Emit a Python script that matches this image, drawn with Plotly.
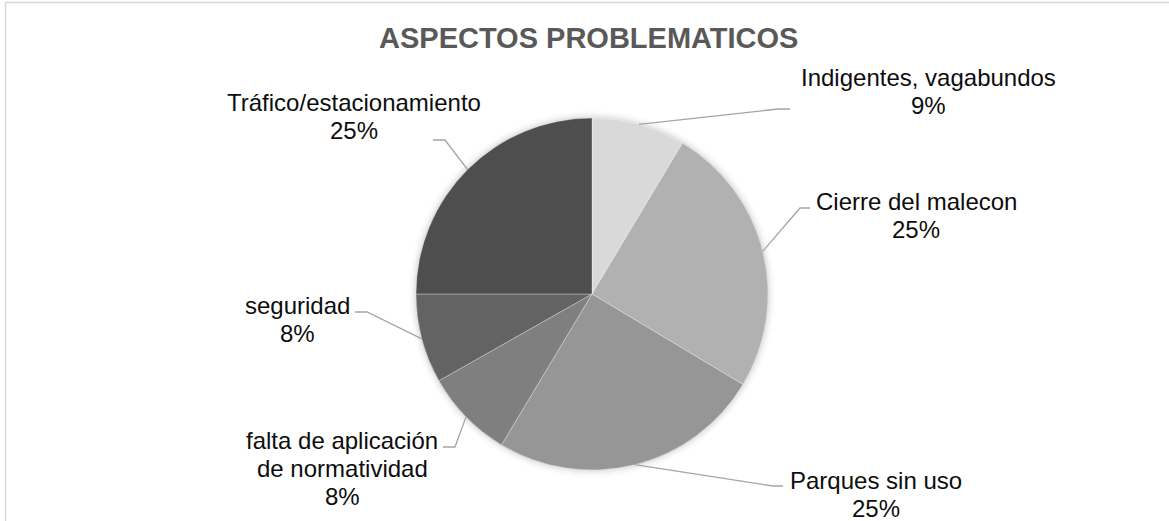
import math
import plotly.graph_objects as go

# ---- data ----
categories = ["Indigentes, vagabundos", "Cierre del malecon", "Parques sin uso",
              "falta de aplicación|de normatividad", "seguridad", "Tráfico/estacionamiento"]
values = [8.6, 25.0, 25.0, 8.2, 8.2, 25.0]
colors = ["#d9d9d9", "#b1b1b1", "#969696", "#7f7f7f", "#636363", "#4e4e4e"]
title_text = "ASPECTOS PROBLEMATICOS"

# ---- layout constants (pixels) ----
W, H = 1169, 521
CX, CY, R = 592, 294, 176
LINE_GAP = 28
# label block: (center x, first line center y)
label_pos = [(928, 77), (916, 201), (876, 480), (342, 440), (297, 305), (354, 102)]
elbows = [((778, 109), (790, 109)), ((800, 208), (810, 208)), ((773, 486), (783, 486)),
          ((455, 447), (443, 447)), ((367, 312), (355, 312)), ((445, 140), (433, 140))]
FONT = "Liberation Sans, Arial"

fig = go.Figure()
fig.add_trace(go.Pie(
    labels=[c.replace("|", " ") for c in categories], values=values, sort=False,
    direction="clockwise", rotation=0,
    marker=dict(colors=colors, line=dict(color="rgba(255,255,255,0.45)", width=0.7)),
    textinfo="none", hoverinfo="label+percent", showlegend=False,
    domain=dict(x=[(CX - R) / W, (CX + R) / W], y=[1 - (CY + R) / H, 1 - (CY - R) / H]),
))

shapes = []
# soft shadow around pie
for i, a in enumerate([0.05, 0.035, 0.02, 0.01]):
    rr = R + 1.5 + i * 2
    shapes.append(dict(type="circle", xref="x", yref="y", x0=CX - rr, x1=CX + rr,
                       y0=CY - rr, y1=CY + rr, fillcolor=f"rgba(0,0,0,{a})",
                       line=dict(width=0), layer="below"))
# chart border
shapes.append(dict(type="rect", xref="x", yref="y", x0=5.5, y0=2.5, x1=1175, y1=540,
                   line=dict(color="#d9d9d9", width=1.5), layer="below"))

total = sum(values)
cum = 0
annotations = []
for name, v, (lx, ly), (e1, e2) in zip(categories, values, label_pos, elbows):
    mid = (cum + v / 2) / total * 2 * math.pi
    cum += v
    sx = CX + R * math.sin(mid)
    sy = CY - R * math.cos(mid)
    shapes.append(dict(type="path", xref="x", yref="y",
                       path=f"M {sx:.1f},{sy:.1f} L {e1[0]},{e1[1]} L {e2[0]},{e2[1]}",
                       line=dict(color="#a5a5a5", width=1.3)))
    pct = round(v / total * 100)
    lines = name.split("|") + [f"{pct}%"]
    for k, t in enumerate(lines):
        annotations.append(dict(xref="x", yref="y", x=lx, y=ly + k * LINE_GAP,
                                xanchor="center", yanchor="middle",
                                text=t, showarrow=False, align="center",
                                font=dict(family=FONT, size=24, color="#0d0d0d")))

annotations.append(dict(xref="x", yref="y", x=588, y=38, xanchor="center", yanchor="middle",
                        text=f"<b>{title_text}</b>", showarrow=False,
                        font=dict(family=FONT, size=29, color="#595959")))

fig.update_layout(
    width=W, height=H, margin=dict(l=0, r=0, t=0, b=0),
    paper_bgcolor="white", plot_bgcolor="rgba(0,0,0,0)",
    xaxis=dict(range=[0, W], visible=False, fixedrange=True),
    yaxis=dict(range=[H, 0], visible=False, fixedrange=True),
    shapes=shapes, annotations=annotations,
)
fig.write_html("out.html", config={"displayModeBar": False},
               post_script="document.body.style.margin='0';")
